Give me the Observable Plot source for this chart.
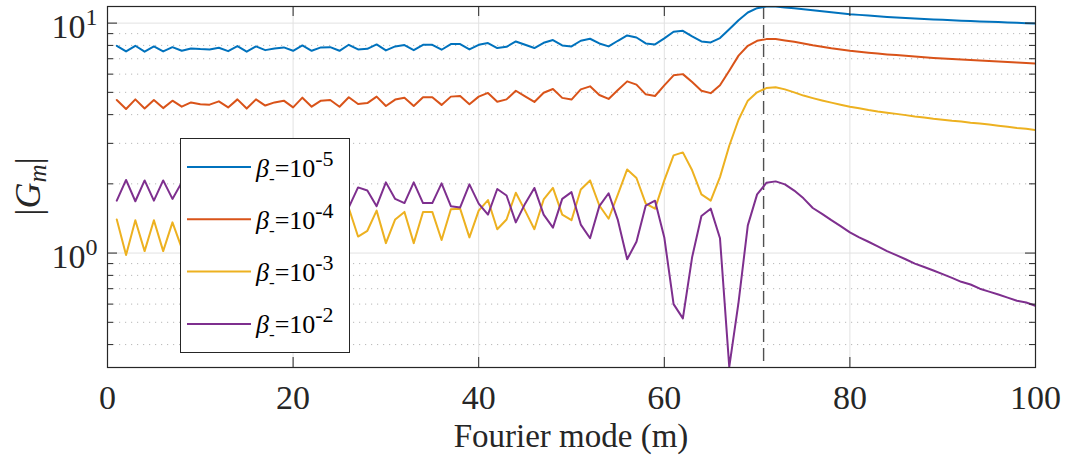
<!DOCTYPE html>
<html><head><meta charset="utf-8">
<script src="https://cdn.jsdelivr.net/npm/d3@7"></script>
<script src="https://cdn.jsdelivr.net/npm/@observablehq/plot@0.6"></script>
<style>
html,body{margin:0;padding:0;background:#fff;}
#chart{width:1068px;height:455px;}
</style>
</head><body><div id="chart"></div>
<script>
// ---- data ----
const modes = d3.range(1, 101); // Fourier mode m = 1..100

const labels = ["1e-5", "1e-4", "1e-3", "1e-2"];
const exponents = ["-5", "-4", "-3", "-2"];
const colors = ["#0072BD", "#D95319", "#EDB120", "#7E2F8E"];

const g_b5 = [
  7.97,7.53,7.97,7.51,7.92,7.53,7.86,7.58,7.76,7.71,
  7.68,7.81,7.55,7.95,7.51,7.92,7.63,7.76,7.84,7.58,
  8.00,7.58,7.84,7.86,7.58,8.05,7.68,7.73,8.08,7.61,
  7.92,8.03,7.63,8.05,8.05,7.66,8.11,8.11,7.68,8.05,
  8.19,7.79,7.89,8.32,8.05,7.79,8.21,8.44,8.00,7.92,
  8.38,8.55,8.16,7.92,8.38,8.84,8.66,8.16,8.08,8.58,
  9.17,9.26,8.75,8.32,8.24,8.61,9.41,10.30,11.12,11.61,
  11.81,11.81,11.69,11.60,11.50,11.38,11.27,11.15,11.05,10.94,
  10.86,10.79,10.71,10.64,10.58,10.52,10.47,10.42,10.37,10.33,
  10.29,10.25,10.21,10.17,10.13,10.10,10.06,10.03,9.99,9.96
];
const g_b4 = [
  4.63,4.23,4.66,4.25,4.63,4.27,4.60,4.33,4.52,4.44,
  4.42,4.57,4.30,4.66,4.25,4.66,4.38,4.52,4.60,4.30,
  4.74,4.33,4.60,4.63,4.33,4.76,4.45,4.49,4.79,4.36,
  4.65,4.74,4.36,4.76,4.76,4.41,4.79,4.82,4.44,4.79,
  4.97,4.55,4.66,5.08,4.80,4.54,4.98,5.17,4.73,4.65,
  5.15,5.31,4.87,4.68,5.12,5.58,5.40,4.90,4.82,5.36,
  5.93,6.00,5.54,5.08,4.96,5.37,6.21,7.22,7.97,8.38,
  8.52,8.52,8.41,8.29,8.16,8.02,7.90,7.78,7.68,7.58,
  7.51,7.44,7.37,7.31,7.26,7.21,7.16,7.11,7.06,7.02,
  6.98,6.94,6.91,6.87,6.84,6.81,6.77,6.74,6.71,6.68
];
const g_b3 = [
  1.40,0.98,1.39,1.02,1.39,1.02,1.36,1.05,1.22,1.26,
  1.25,1.35,1.05,1.42,1.03,1.42,1.12,1.30,1.42,1.06,
  1.47,1.07,1.44,1.45,1.08,1.57,1.18,1.25,1.53,1.105,
  1.40,1.51,1.105,1.51,1.51,1.14,1.55,1.56,1.17,1.53,
  1.70,1.27,1.40,1.83,1.53,1.27,1.71,1.92,1.47,1.39,
  1.89,2.07,1.61,1.41,1.80,2.31,2.12,1.64,1.56,2.07,
  2.66,2.74,2.29,1.80,1.69,2.14,2.93,3.80,4.60,5.00,
  5.22,5.26,5.15,5.00,4.84,4.72,4.61,4.51,4.42,4.33,
  4.26,4.19,4.13,4.08,4.03,3.98,3.93,3.89,3.84,3.80,
  3.76,3.73,3.69,3.66,3.62,3.58,3.54,3.50,3.47,3.43
];
const g_b2 = [
  1.69,2.08,1.68,2.07,1.69,2.07,1.72,2.03,1.85,1.82,
  1.83,1.76,2.04,1.68,2.07,1.68,1.97,1.82,1.72,2.04,
  1.64,2.04,1.68,1.66,2.02,1.58,1.93,1.87,1.60,2.03,
  1.72,1.65,2.03,1.65,1.65,2.01,1.60,1.58,1.99,1.64,
  1.47,1.90,1.78,1.36,1.64,1.92,1.47,1.29,1.72,1.84,
  1.33,1.16,1.60,1.82,1.39,0.94,1.12,1.61,1.69,1.17,
  0.60,0.52,0.96,1.45,1.56,1.16,0.32,0.61,1.32,1.80,
  2.02,2.05,1.99,1.87,1.73,1.57,1.48,1.39,1.31,1.23,
  1.17,1.12,1.07,1.02,0.98,0.94,0.90,0.87,0.84,0.81,
  0.78,0.75,0.73,0.70,0.68,0.66,0.64,0.62,0.61,0.59
];

const xTicks = [0, 20, 40, 60, 80, 100];
const xGrid = [20, 40, 60, 80];
const yMajor = [1, 10];
const yMinor = [0.4, 0.5, 0.6, 0.7, 0.8, 0.9, 2, 3, 4, 5, 6, 7, 8, 9];
const cutoffMode = [70.7];
const xLabel = "Fourier mode (m)";

// ---- build table ----
const seriesValues = [g_b5, g_b4, g_b3, g_b2];
const table = [];
seriesValues.forEach((vals, s) => vals.forEach((v, i) => table.push({m: modes[i], g: v, beta: labels[s]})));

const W = 1068, H = 455, mL = 107, mR = 33, mT = 6, mB = 88;
const pw = W - mL - mR, ph = H - mT - mB;
const serif = "'Liberation Serif', 'Times New Roman', serif";
const axisColor = "#262626";

const chart = Plot.plot({
  width: W, height: H,
  marginLeft: mL, marginRight: mR, marginTop: mT, marginBottom: mB,
  style: {fontFamily: serif, background: "white", color: axisColor},
  x: {domain: [0, 100]},
  y: {type: "log", domain: [0.318, 11.81]},
  color: {domain: labels, range: colors},
  marks: [
    Plot.ruleY(yMinor, {stroke: "#b8b8b8", strokeDasharray: "1.2,4.8", strokeWidth: 1}),
    Plot.ruleY(yMajor, {stroke: "#e2e2e2", strokeWidth: 1}),
    Plot.ruleX(xGrid, {stroke: "#e2e2e2", strokeWidth: 1}),
    Plot.ruleX(cutoffMode, {stroke: "#505050", strokeDasharray: "13,6", strokeWidth: 1.4}),
    Plot.line(table, {x: "m", y: "g", z: "beta", stroke: "beta", strokeWidth: 2, clip: true}),
    Plot.frame({stroke: axisColor, strokeWidth: 1.2}),
    Plot.tickY(yMajor, {insetRight: pw - 10, stroke: axisColor}),
    Plot.tickY(yMajor, {insetLeft: pw - 10, stroke: axisColor}),
    Plot.tickY(yMinor, {insetRight: pw - 6, stroke: axisColor}),
    Plot.tickY(yMinor, {insetLeft: pw - 6, stroke: axisColor}),
    Plot.tickX(xTicks, {insetTop: ph - 10, stroke: axisColor}),
    Plot.tickX(xTicks, {insetBottom: ph - 10, stroke: axisColor}),
    Plot.axisX({ticks: xTicks, tickSize: 0, tickPadding: 17, fontSize: 34, label: null, tickFormat: d => String(d), fill: axisColor}),
    Plot.axisY({ticks: yMajor, tickSize: 0, tickPadding: 10, fontSize: 34, label: null, dy: 4, tickFormat: d => "10^" + Math.round(Math.log10(d)), fill: axisColor})
  ]
});
document.getElementById("chart").appendChild(chart);

const svg = d3.select(chart);
// superscripts on y tick labels
svg.selectAll('g[aria-label="y-axis tick label"] text').each(function() {
  const s = d3.select(this).text();
  const [base, ex] = s.split("^");
  const t = d3.select(this);
  t.text("");
  t.append("tspan").text(base);
  t.append("tspan").attr("dy", -13).attr("font-size", 24).text(ex);
});

// y label |G_m|
const yl = svg.append("text")
  .attr("transform", `translate(40, ${mT + ph / 2}) rotate(-90)`)
  .attr("text-anchor", "middle")
  .attr("font-family", serif).attr("font-size", 36).attr("fill", axisColor);
yl.append("tspan").text("|");
yl.append("tspan").attr("font-style", "italic").text("G");
yl.append("tspan").attr("font-style", "italic").attr("font-size", 25).attr("dy", 6).text("m");
yl.append("tspan").attr("dy", -6).text("|");

// x label
svg.append("text")
  .attr("x", mL + pw / 2).attr("y", 447)
  .attr("text-anchor", "middle")
  .attr("font-family", serif).attr("font-size", 33).attr("fill", axisColor)
  .text(xLabel);

// legend
const lg = svg.append("g");
lg.append("rect").attr("x", 180.5).attr("y", 138.5).attr("width", 169).attr("height", 214)
  .attr("fill", "white").attr("stroke", axisColor).attr("stroke-width", 1);
labels.forEach((lab, i) => {
  const ly = 167 + i * 52.3;
  lg.append("line").attr("x1", 187).attr("x2", 251).attr("y1", ly).attr("y2", ly)
    .attr("stroke", colors[i]).attr("stroke-width", 2);
  const t = lg.append("text").attr("x", 256).attr("y", ly + 9.5)
    .attr("text-anchor", "start")
    .attr("font-family", serif).attr("font-size", 26).attr("fill", "#000");
  t.append("tspan").attr("font-style", "italic").text("β");
  t.append("tspan").attr("font-size", 17).attr("dy", 7).text("-");
  t.append("tspan").attr("dy", -7).text("=10");
  t.append("tspan").attr("font-size", 22).attr("dy", -11).text(exponents[i]);
});
</script>
</body></html>
